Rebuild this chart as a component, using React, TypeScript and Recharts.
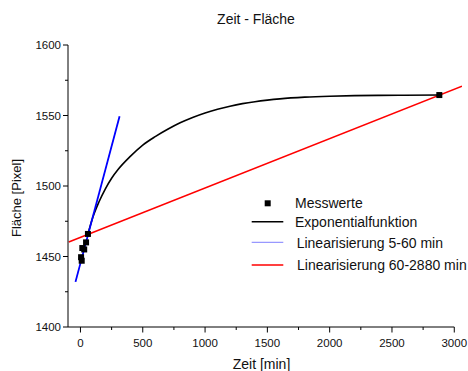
import React from 'react';
import { ComposedChart, Line, Scatter, XAxis, YAxis, ReferenceLine } from 'recharts';

const messwerte = [
  { t: 5, v: 1449.5 },
  { t: 10, v: 1447 },
  { t: 15, v: 1456 },
  { t: 30, v: 1455 },
  { t: 45, v: 1460 },
  { t: 60, v: 1466 },
  { t: 2880, v: 1564.5 },
];

const exponential = [
  { t: 60, v: 1466 },
  { t: 100, v: 1478 },
  { t: 150, v: 1489 },
  { t: 200, v: 1498 },
  { t: 250, v: 1505.5 },
  { t: 300, v: 1511.5 },
  { t: 400, v: 1521 },
  { t: 500, v: 1529 },
  { t: 600, v: 1535 },
  { t: 700, v: 1540.2 },
  { t: 800, v: 1544.8 },
  { t: 900, v: 1548.6 },
  { t: 1000, v: 1551.8 },
  { t: 1100, v: 1554.4 },
  { t: 1200, v: 1556.6 },
  { t: 1300, v: 1558.4 },
  { t: 1400, v: 1559.8 },
  { t: 1500, v: 1560.9 },
  { t: 1600, v: 1561.8 },
  { t: 1800, v: 1563 },
  { t: 2000, v: 1563.7 },
  { t: 2200, v: 1564.1 },
  { t: 2400, v: 1564.3 },
  { t: 2600, v: 1564.4 },
  { t: 2880, v: 1564.5 },
];

const lin5to60 = [
  { t: -40, v: 1432 },
  { t: 314, v: 1549.4 },
];

const lin60to2880 = [
  { t: -94, v: 1460.3 },
  { t: 3062, v: 1570.7 },
];

const xTicks = [0, 250, 500, 750, 1000, 1250, 1500, 1750, 2000, 2250, 2500, 2750, 3000];
const xMajor = [0, 500, 1000, 1500, 2000, 2500, 3000];
const yTicks = [1400, 1425, 1450, 1475, 1500, 1525, 1550, 1575, 1600];
const yMajor = [1400, 1450, 1500, 1550, 1600];

const FONT = '"Liberation Sans", Arial, sans-serif';
const TEXT = '#111';

const XTick = (props: any) => {
  const { x, y, payload } = props;
  const major = xMajor.includes(payload.value);
  return (
    <g>
      <line x1={x} y1={y} x2={x} y2={y + (major ? 5.5 : 3)} stroke="#000" strokeWidth={1} />
      {major && (
        <text x={x} y={y + 20} textAnchor="middle" fontSize={11.5} fontFamily={FONT} fill={TEXT}>
          {payload.value}
        </text>
      )}
    </g>
  );
};

const YTick = (props: any) => {
  const { x, y, payload } = props;
  const major = yMajor.includes(payload.value);
  return (
    <g>
      <line x1={x} y1={y} x2={x - (major ? 5 : 3)} y2={y} stroke="#000" strokeWidth={1} />
      {major && (
        <text x={x - 7} y={y + 4} textAnchor="end" fontSize={11.5} fontFamily={FONT} fill={TEXT}>
          {payload.value}
        </text>
      )}
    </g>
  );
};

const SquareDot = (props: any) => {
  const { cx, cy } = props;
  if (cx == null || cy == null) return null;
  return <rect x={cx - 3} y={cy - 3} width={6} height={6} fill="#000" />;
};

export default function App() {
  return (
    <div style={{ position: 'absolute', left: 0, top: 0, width: 468, height: 371, background: '#fff' }}>
      <ComposedChart
        width={468}
        height={371}
        margin={{ top: 45, right: 6, bottom: 14, left: 8 }}
      >
        <XAxis
          type="number"
          dataKey="t"
          domain={[-100, 3062]}
          ticks={xTicks}
          interval={0}
          tickSize={0}
          tickMargin={0}
          tick={<XTick />}
          axisLine={false}
          tickLine={false}
          height={30}
          allowDataOverflow
        />
        <YAxis
          type="number"
          dataKey="v"
          domain={[1400, 1600]}
          ticks={yTicks}
          interval={0}
          tickSize={0}
          tickMargin={0}
          tick={<YTick />}
          axisLine={{ stroke: '#000', strokeWidth: 1 }}
          tickLine={false}
          width={60}
          allowDataOverflow
        />
        <ReferenceLine
          segment={[{ x: -100, y: 1400 }, { x: 3000, y: 1400 }]}
          stroke="#000"
          strokeWidth={1}
          ifOverflow="visible"
        />
        <Line
          data={lin60to2880}
          dataKey="v"
          type="linear"
          stroke="#ff0000"
          strokeWidth={1.5}
          dot={false}
          isAnimationActive={false}
        />
        <Line
          data={exponential}
          dataKey="v"
          type="monotone"
          stroke="#000"
          strokeWidth={1.6}
          dot={false}
          isAnimationActive={false}
        />
        <Line
          data={lin5to60}
          dataKey="v"
          type="linear"
          stroke="#0000ff"
          strokeWidth={1.8}
          dot={false}
          isAnimationActive={false}
        />
        <Scatter
          data={messwerte}
          dataKey="v"
          fill="#000"
          shape={<SquareDot />}
          isAnimationActive={false}
        />
      </ComposedChart>
      <svg
        width={468}
        height={371}
        style={{ position: 'absolute', left: 0, top: 0, pointerEvents: 'none' }}
      >
        <text x={256} y={23.5} textAnchor="middle" fontSize={14} fontFamily={FONT} fill={TEXT}>
          Zeit - Fläche
        </text>
        <text x={261.5} y={369} textAnchor="middle" fontSize={14} fontFamily={FONT} fill={TEXT}>
          Zeit [min]
        </text>
        <text
          x={20.5}
          y={198}
          textAnchor="middle"
          fontSize={13}
          fontFamily={FONT}
          fill={TEXT}
          transform="rotate(-90 20.5 198)"
        >
          Fläche [Pixel]
        </text>
        <rect x={264.7} y={200.3} width={6} height={6} fill="#000" />
        <text x={295} y={208.3} fontSize={14} fontFamily={FONT} fill={TEXT}>Messwerte</text>
        <line x1={251.7} y1={221.7} x2={283.3} y2={221.7} stroke="#000" strokeWidth={1.6} />
        <text x={295} y={226.7} fontSize={14} fontFamily={FONT} fill={TEXT}>Exponentialfunktion</text>
        <line x1={251.7} y1={242.3} x2={283.3} y2={242.3} stroke="#7f7fff" strokeWidth={1} />
        <text x={296.7} y={248.3} fontSize={14} fontFamily={FONT} fill={TEXT}>Linearisierung 5-60 min</text>
        <line x1={251.7} y1={265} x2={283.3} y2={265} stroke="#ff0000" strokeWidth={1.5} />
        <text x={297} y={270} fontSize={14} fontFamily={FONT} fill={TEXT}>Linearisierung 60-2880 min</text>
      </svg>
    </div>
  );
}
